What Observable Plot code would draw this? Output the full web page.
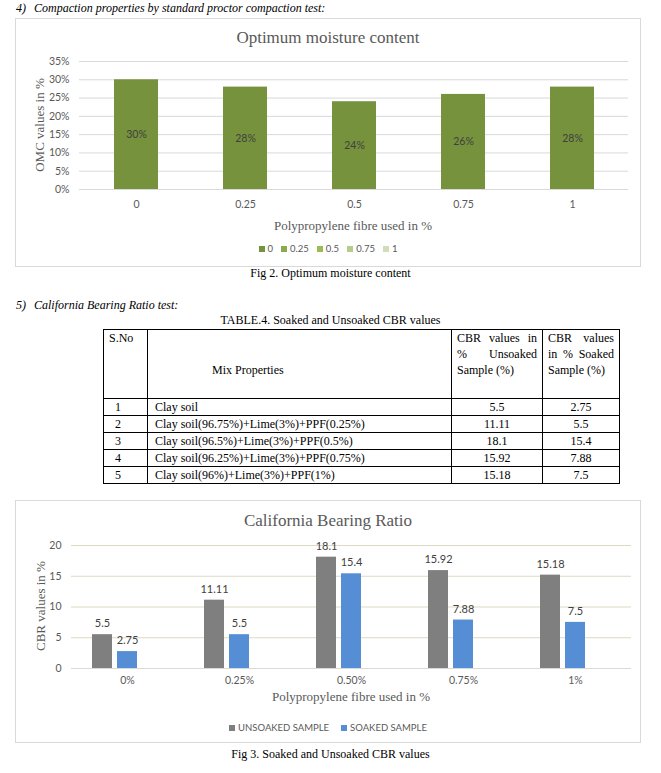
<!DOCTYPE html>
<html><head><meta charset="utf-8">
<script src="https://cdn.jsdelivr.net/npm/d3@7"></script>
<script src="https://cdn.jsdelivr.net/npm/@observablehq/plot@0.6"></script>
<style>
body{margin:0;background:#fff;width:661px;height:773px;position:relative;color:#000;overflow:hidden}
div,table,td{font-family:'Liberation Serif','Times New Roman',serif}
.abs{position:absolute;white-space:nowrap}
.box{position:absolute;border:1px solid #d9d9d9;box-sizing:border-box;left:15px;width:626px}
.it{font-style:italic;font-size:12px;left:16px}
.it span{display:inline-block;width:18px}
.cap{font-size:12px;text-align:center;width:661px;left:0}
.ctitle{font-size:17px;color:#595959;text-align:center;width:626px;left:15px}
.ylab{font-size:13px;color:#595959;transform:rotate(-90deg);width:200px;height:16px;line-height:16px;text-align:center}
.xlab{font-size:13px;color:#595959;text-align:center;width:400px}
div.legend{font-family:Lato,sans-serif;font-size:9.5px;color:#595959;display:flex;justify-content:center;align-items:center;width:626px;left:15px}
.legend .it2{display:flex;align-items:center;margin:0 4px}
.legend .sw{display:inline-block;width:6px;height:6px;margin-right:3px}
table{border-collapse:collapse;font-size:12px;position:absolute;left:103px;top:329px;table-layout:fixed}
td{border:1px solid #000;padding:0 5px;line-height:16px;height:16px;vertical-align:top}
td.c{text-align:center}
.hd td{height:68px}
.just{text-align:justify;text-align-last:left}
</style></head>
<body>
<div id="root"></div>
<script>
// ---------- data ----------
const fibre = ["0", "0.25", "0.5", "0.75", "1"];
const omc = [0.30, 0.28, 0.24, 0.26, 0.28];
const omcTicks = [0, 0.05, 0.10, 0.15, 0.20, 0.25, 0.30, 0.35];
const omcLegendColors = ["#76923c", "#8aaa4e", "#9bbb59", "#b6cc8c", "#d0ddb6"];

const cbrCats = ["0%", "0.25%", "0.50%", "0.75%", "1%"];
const cbrSeries = ["UNSOAKED SAMPLE", "SOAKED SAMPLE"];
const cbrSlots = ["UNSOAKED SAMPLE", "SOAKED SAMPLE", ""];
const unsoaked = [5.5, 11.11, 18.1, 15.92, 15.18];
const soaked = [2.75, 5.5, 15.4, 7.88, 7.5];
const cbrTicks = [0, 5, 10, 15, 20];
const cbrColors = ["#7f7f7f", "#558ed5"];

const sNo = ["1", "2", "3", "4", "5"];
const mixes = [
  "Clay soil",
  "Clay soil(96.75%)+Lime(3%)+PPF(0.25%)",
  "Clay soil(96.5%)+Lime(3%)+PPF(0.5%)",
  "Clay soil(96.25%)+Lime(3%)+PPF(0.75%)",
  "Clay soil(96%)+Lime(3%)+PPF(1%)"
];

// ---------- page ----------
const root = document.getElementById("root");
function add(html) { root.insertAdjacentHTML("beforeend", html); }
function el(node, left, top) {
  node.style.position = "absolute"; node.style.left = left + "px"; node.style.top = top + "px";
  root.appendChild(node);
}

add(`<div class="abs it" style="top:1px"><span>4)</span>Compaction properties by standard proctor compaction test:</div>`);
add(`<div class="box" style="top:18px;height:249px"></div>`);
add(`<div class="abs ctitle" style="top:28px">Optimum moisture content</div>`);
add(`<div class="abs ylab" style="left:-60px;top:117px">OMC values in %</div>`);
add(`<div class="abs xlab" style="left:153px;top:218px">Polypropylene fibre used in %</div>`);
add(`<div class="abs legend" style="top:243px">${fibre.map((f, i) =>
  `<span class="it2"><span class="sw" style="background:${omcLegendColors[i]}"></span>${f}</span>`).join("")}</div>`);
add(`<div class="abs cap" style="top:266px">Fig 2. Optimum moisture content</div>`);

add(`<div class="abs it" style="top:298px"><span>5)</span>California Bearing Ratio test:</div>`);
add(`<div class="abs cap" style="top:313px">TABLE.4. Soaked and Unsoaked CBR values</div>`);

let rows = `<tr class="hd"><td style="width:33px">S.No</td><td style="width:234px;padding-left:64px"><br><br>Mix Properties</td>
<td class="just" style="width:80px">CBR values in % Unsoaked Sample (%)</td><td class="just" style="width:66px">CBR values in % Soaked Sample (%)</td></tr>`;
for (let i = 0; i < mixes.length; i++) {
  rows += `<tr><td style="padding-left:11px">${sNo[i]}</td><td style="padding-left:7px">${mixes[i]}</td><td class="c">${unsoaked[i]}</td><td class="c">${soaked[i]}</td></tr>`;
}
add(`<table>${rows}</table>`);

add(`<div class="box" style="top:500px;height:243px"></div>`);
add(`<div class="abs ctitle" style="top:511px">California Bearing Ratio</div>`);
add(`<div class="abs ylab" style="left:-59px;top:598px">CBR values in %</div>`);
add(`<div class="abs xlab" style="left:151px;top:689px">Polypropylene fibre used in %</div>`);
add(`<div class="abs legend" style="top:722px">${cbrSeries.map((s, i) =>
  `<span class="it2" style="margin:0 6px"><span class="sw" style="background:${cbrColors[i]}"></span>${s}</span>`).join("")}</div>`);
add(`<div class="abs cap" style="top:747px">Fig 3. Soaked and Unsoaked CBR values</div>`);

// ---------- chart 1 ----------
const omcData = fibre.map((f, i) => ({fibre: f, value: omc[i]}));
const pct = d3.format(".0%");
const c1 = Plot.plot({
  width: 625, height: 170,
  marginLeft: 64, marginRight: 12, marginTop: 16, marginBottom: 26,
  style: {fontFamily: "Lato, sans-serif", fontSize: "10.5px", color: "#595959", background: "transparent", overflow: "visible"},
  x: {domain: fibre, paddingInner: 0.6, paddingOuter: 0.3, label: null, tickSize: 0, tickPadding: 11},
  y: {domain: [0, 0.35], ticks: omcTicks, tickFormat: pct, label: null, tickSize: 0, tickPadding: 10},
  marks: [
    Plot.ruleY(omcTicks, {stroke: "#d9d9d9", strokeOpacity: 1}),
    Plot.barY(omcData, {x: "fibre", y: "value", fill: "#76923c"}),
    Plot.text(omcData, {x: "fibre", y: d => d.value / 2, text: d => pct(d.value), fill: "#404040", fontSize: 10.5})
  ]
});
el(c1, 15, 45);

// ---------- chart 2 ----------
const cbrData = [];
cbrCats.forEach((c, i) => {
  cbrData.push({cat: c, series: cbrSeries[0], value: unsoaked[i]});
  cbrData.push({cat: c, series: cbrSeries[1], value: soaked[i]});
});
const c2 = Plot.plot({
  width: 625, height: 160,
  marginLeft: 56, marginRight: 9, marginTop: 10, marginBottom: 27,
  style: {fontFamily: "Lato, sans-serif", fontSize: "10.5px", color: "#595959", background: "transparent", overflow: "visible"},
  facet: {data: cbrData, x: "cat"},
  fx: {domain: cbrCats, padding: 0, label: null, axis: "bottom", tickSize: 0, tickPadding: 8},
  x: {domain: cbrSlots, paddingInner: 0.2, paddingOuter: 0.84, axis: null},
  y: {domain: [0, 20], ticks: cbrTicks, label: null, tickSize: 0, tickPadding: 10},
  color: {domain: cbrSeries, range: cbrColors},
  marks: [
    Plot.ruleY(cbrTicks.filter(t => t > 0), {stroke: "#ddd9c3", strokeOpacity: 1}),
    Plot.ruleY([0], {stroke: "#d9d9d9", strokeOpacity: 1}),
    Plot.barY(cbrData, {x: "series", y: "value", fill: "series"}),
    Plot.text(cbrData, {x: "series", y: "value", text: d => String(d.value), dy: -11, fill: "#404040", fontSize: 11})
  ]
});
el(c2, 15, 535);
</script>
</body></html>
